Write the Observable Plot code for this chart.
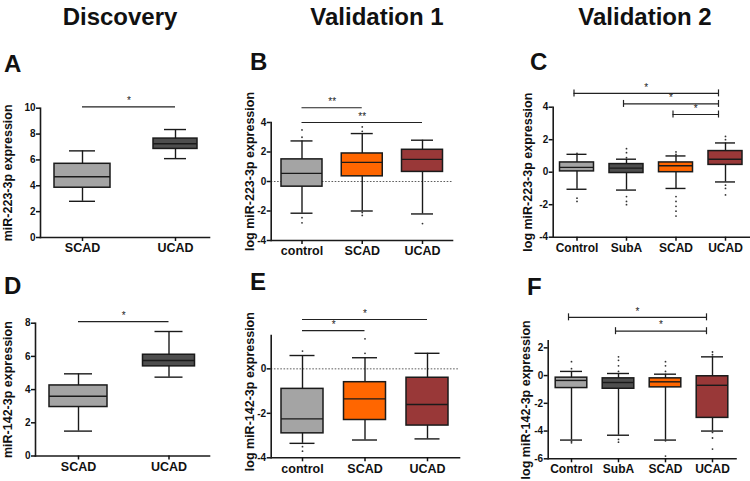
<!DOCTYPE html>
<html><head><meta charset="utf-8">
<script src="https://cdn.jsdelivr.net/npm/d3@7"></script>
<script src="https://cdn.jsdelivr.net/npm/@observablehq/plot@0.6"></script>
<style>
body{margin:0;background:#fff;}
#root{position:relative;width:750px;height:481px;overflow:hidden;font-family:"Liberation Sans",Arial,sans-serif;color:#111;}
.hdr{position:absolute;width:220px;text-align:center;font-weight:bold;font-size:24px;line-height:24px;}
.let{position:absolute;font-weight:bold;font-size:24px;line-height:24px;}
.pn{position:absolute;}
</style></head><body><div id="root"></div>
<script>
// ---------- Panel A: Discovery, miR-223-3p ----------
const A_groups = ["SCAD", "UCAD"];
const A_low  = [2.8, 6.1];
const A_q1   = [3.85, 6.85];
const A_med  = [4.7, 7.25];
const A_q3   = [5.7, 7.65];
const A_high = [6.7, 8.35];
const A_outGroup = [];
const A_outValue = [];
const A_sigFrom = ["SCAD"], A_sigTo = ["UCAD"], A_sigY = [10.1], A_sigText = ["*"];

// ---------- Panel B: Validation 1, log miR-223-3p ----------
const B_groups = ["control", "SCAD", "UCAD"];
const B_low  = [-2.15, -2.0, -2.2];
const B_q1   = [-0.35, 0.35, 0.65];
const B_med  = [0.55, 1.3, 1.5];
const B_q3   = [1.5, 1.9, 2.15];
const B_high = [2.75, 3.25, 2.8];
const B_outGroup = ["control","control","control","control","SCAD","SCAD","SCAD","SCAD","UCAD"];
const B_outValue = [3.5, 3.0, -2.45, -2.8, 3.4, 3.7, -2.1, -2.3, -2.85];
const B_sigFrom = ["control","control"], B_sigTo = ["SCAD","UCAD"], B_sigY = [5.0, 4.0], B_sigText = ["**","**"];

// ---------- Panel C: Validation 2, log miR-223-3p ----------
const C_groups = ["Control", "SubA", "SCAD", "UCAD"];
const C_low  = [-1.05, -1.1, -1.0, -0.6];
const C_q1   = [0.05, -0.05, 0.0, 0.45];
const C_med  = [0.3, 0.25, 0.4, 0.8];
const C_q3   = [0.6, 0.5, 0.6, 1.3];
const C_high = [1.1, 0.8, 1.0, 1.8];
const C_outGroup = ["Control","Control","Control","SubA","SubA","SubA","SubA","SubA","SubA","SCAD","SCAD","SCAD","SCAD","SCAD","SCAD","SCAD","UCAD","UCAD","UCAD","UCAD","UCAD"];
const C_outValue = [1.15, -1.6, -1.8, 0.9, 1.2, 1.45, -1.5, -1.8, -2.0, 1.1, 1.25, -1.5, -1.8, -2.1, -2.4, -2.7, 2.0, 2.2, -0.8, -1.0, -1.4];
const C_sigFrom = ["Control","SubA","SCAD"], C_sigTo = ["UCAD","UCAD","UCAD"], C_sigY = [4.85, 4.2, 3.55], C_sigText = ["*","*","*"];

// ---------- Panel D: Discovery, miR-142-3p ----------
const D_groups = ["SCAD", "UCAD"];
const D_low  = [1.5, 4.75];
const D_q1   = [2.95, 5.4];
const D_med  = [3.6, 5.75];
const D_q3   = [4.25, 6.1];
const D_high = [4.95, 7.5];
const D_outGroup = [];
const D_outValue = [];
const D_sigFrom = ["SCAD"], D_sigTo = ["UCAD"], D_sigY = [8.1], D_sigText = ["*"];

// ---------- Panel E: Validation 1, log miR-142-3p ----------
const E_groups = ["control", "SCAD", "UCAD"];
const E_low  = [-3.35, -3.2, -3.15];
const E_q1   = [-2.9, -2.3, -2.55];
const E_med  = [-2.25, -1.35, -1.6];
const E_q3   = [-0.9, -0.6, -0.4];
const E_high = [0.6, 0.5, 0.7];
const E_outGroup = ["control","control","control","SCAD","SCAD"];
const E_outValue = [0.8, -3.5, -3.7, 0.7, 1.35];
const E_sigFrom = ["control","control"], E_sigTo = ["SCAD","UCAD"], E_sigY = [1.72, 2.22], E_sigText = ["*","*"];

// ---------- Panel F: Validation 2, log miR-142-3p ----------
const F_groups = ["Control", "SubA", "SCAD", "UCAD"];
const F_low  = [-4.65, -4.3, -4.65, -4.0];
const F_q1   = [-0.9, -0.95, -0.85, -3.05];
const F_med  = [-0.35, -0.5, -0.45, -0.7];
const F_q3   = [-0.15, -0.2, -0.2, -0.05];
const F_high = [0.3, 0.15, 0.1, 1.35];
const F_outGroup = ["Control","Control","Control","Control","SubA","SubA","SubA","SubA","SubA","SubA","SCAD","SCAD","SCAD","SCAD","SCAD","SCAD","UCAD","UCAD","UCAD","UCAD","UCAD"];
const F_outValue = [0.5, 1.0, -4.75, -4.85, 0.3, 0.7, 1.1, 1.35, -4.6, -4.8, 0.3, 0.7, 1.0, -4.7, -5.8, -6.0, 1.5, 1.7, -4.1, -4.5, -5.3];
const F_sigFrom = ["Control","SubA"], F_sigTo = ["UCAD","UCAD"], F_sigY = [4.2, 3.2], F_sigText = ["*","*"];

const headers = ["Discovery", "Validation 1", "Validation 2"];

// colours
const LIGHT = "#a4a4a4", DARK = "#4e4e4e", ORANGE = "#ff6600", MAROON = "#993838";
const INK = "#1a1a1a";

const root = document.getElementById("root");

function addDiv(cls, text, left, top, extra) {
  const d = document.createElement("div");
  d.className = cls; d.textContent = text;
  d.style.left = left + "px"; d.style.top = top + "px";
  if (extra) Object.assign(d.style, extra);
  root.appendChild(d);
}

function drawPanel(p) {
  const n = p.groups.length;
  const rows = p.groups.map((g, i) => ({i, low: p.low[i], q1: p.q1[i], med: p.med[i], q3: p.q3[i], high: p.high[i], fill: p.fills[i]}));
  const step = (p.centers[n - 1] - p.centers[0]) / (n - 1);
  const bh = d => (p.boxHalf[d.i] ?? p.boxHalf[0]) / step;
  const ch = d => (p.capHalf[d.i] ?? p.capHalf[0]) / step;
  const outl = p.outGroup.map((g, k) => ({i: p.groups.indexOf(g), v: p.outValue[k]}));
  const sig = p.sigFrom.map((f, k) => ({a: p.groups.indexOf(f) + p.sigShift[0] / step, b: p.groups.indexOf(p.sigTo[k]) + p.sigShift[1] / step, y: p.sigY[k], t: p.sigText[k]}));
  const pxPerUnit = (p.yBottomPx - p.yTopPx) / (p.yDomain[1] - p.yDomain[0]);
  const capY = p.sigCapPx / pxPerUnit;
  const marks = [];
  if (p.zeroLine) marks.push(Plot.ruleY([0], {stroke: "#333", strokeWidth: 0.8, strokeDasharray: "1.6,1.6"}));
  marks.push(
    Plot.ruleX(rows, {x: "i", y1: "low", y2: "high", stroke: INK, strokeWidth: 1.4}),
    Plot.ruleY(rows, {x1: d => d.i - ch(d), x2: d => d.i + ch(d), y: "low", stroke: INK, strokeWidth: 1.4}),
    Plot.ruleY(rows, {x1: d => d.i - ch(d), x2: d => d.i + ch(d), y: "high", stroke: INK, strokeWidth: 1.4}),
    Plot.rect(rows, {x1: d => d.i - bh(d), x2: d => d.i + bh(d), y1: "q1", y2: "q3", fill: "fill", stroke: INK, strokeWidth: 1.5}),
    Plot.ruleY(rows, {x1: d => d.i - bh(d), x2: d => d.i + bh(d), y: "med", stroke: INK, strokeWidth: 1.4}),
    Plot.dot(outl, {x: "i", y: "v", r: 0.9, fill: "#333", stroke: null}),
    Plot.ruleY(sig, {x1: "a", x2: "b", y: "y", stroke: "#222", strokeWidth: 1.2}),
    Plot.text(sig, {x: d => (d.a + d.b) / 2, y: "y", text: "t", dy: -6, fontSize: 10, fill: "#222"}),
    Plot.frame({anchor: "left", stroke: INK, strokeWidth: 1.6}),
    Plot.frame({anchor: "bottom", stroke: INK, strokeWidth: 1.6}),
    Plot.axisY({ticks: p.yTicks, tickFormat: d => String(d), tickSize: 4, tickPadding: 1, strokeWidth: 1.5, fontSize: 10, fontWeight: "bold", label: null}),
    Plot.axisX({ticks: d3.range(n), tickFormat: i => p.groups[i], tickSize: 4, tickPadding: 2, strokeWidth: 1.5, fontSize: p.xFont, fontWeight: "bold", label: null}),
    Plot.text([p.ylabel], {text: d => d, frameAnchor: "left", textAnchor: "middle", lineAnchor: "middle", rotate: -90, dx: p.labelX - p.axisX, dy: p.labelDy, fontSize: 12.5, fontWeight: "bold", fill: "#111"})
  );
  if (p.sigCapPx > 0) {
    const ends = sig.flatMap(s => [{x: s.a, y: s.y}, {x: s.b, y: s.y}]);
    marks.push(Plot.ruleX(ends, {x: "x", y1: d => d.y - capY, y2: d => d.y + capY, stroke: "#222", strokeWidth: 1.2}));
  }
  const svg = Plot.plot({
    width: p.box.w, height: p.box.h,
    marginLeft: p.axisX - p.box.left,
    marginRight: p.box.left + p.box.w - p.frameRight,
    marginTop: p.yTopPx - p.box.top,
    marginBottom: p.box.top + p.box.h - p.yBottomPx,
    x: {type: "linear", domain: [0, n - 1], range: [p.centers[0] - p.box.left, p.centers[n - 1] - p.box.left]},
    y: {domain: p.yDomain},
    color: {type: "identity"},
    style: {fontFamily: '"Liberation Sans", Arial, sans-serif', background: "transparent", overflow: "visible", color: "#111"},
    marks
  });
  const wrap = document.createElement("div");
  wrap.className = "pn";
  wrap.style.left = p.box.left + "px"; wrap.style.top = p.box.top + "px";
  wrap.appendChild(svg);
  root.appendChild(wrap);
}

const common = {sigShift: [0, 0], sigCapPx: 0, zeroLine: false, labelDy: 0};

drawPanel({...common, groups: A_groups, low: A_low, q1: A_q1, med: A_med, q3: A_q3, high: A_high,
  outGroup: A_outGroup, outValue: A_outValue, sigFrom: A_sigFrom, sigTo: A_sigTo, sigY: A_sigY, sigText: A_sigText,
  fills: [LIGHT, DARK], box: {left: 0, top: 60, w: 215, h: 205}, axisX: 40, frameRight: 209,
  yTopPx: 107.7, yBottomPx: 237, yDomain: [0, 10], yTicks: [0, 2, 4, 6, 8, 10],
  centers: [82, 175], boxHalf: [28, 22], capHalf: [13, 11], xFont: 12.5, labelX: 7, ylabel: "miR-223-3p expression"});

drawPanel({...common, groups: B_groups, low: B_low, q1: B_q1, med: B_med, q3: B_q3, high: B_high,
  outGroup: B_outGroup, outValue: B_outValue, sigFrom: B_sigFrom, sigTo: B_sigTo, sigY: B_sigY, sigText: B_sigText,
  fills: [LIGHT, ORANGE, MAROON], box: {left: 240, top: 60, w: 230, h: 205}, axisX: 270.7, frameRight: 452,
  yTopPx: 122, yBottomPx: 240, yDomain: [-4, 4], yTicks: [-4, -2, 0, 2, 4], zeroLine: true, labelDy: -10,
  centers: [301.5, 361.7, 422], boxHalf: [20.5], capHalf: [11], xFont: 12.5, labelX: 249, ylabel: "log miR-223-3p expression"});

drawPanel({...common, groups: C_groups, low: C_low, q1: C_q1, med: C_med, q3: C_q3, high: C_high,
  outGroup: C_outGroup, outValue: C_outValue, sigFrom: C_sigFrom, sigTo: C_sigTo, sigY: C_sigY, sigText: C_sigText,
  fills: [LIGHT, DARK, ORANGE, MAROON], box: {left: 510, top: 60, w: 240, h: 205}, axisX: 552.7, frameRight: 750,
  yTopPx: 106.7, yBottomPx: 236.7, yDomain: [-4, 4], yTicks: [-4, -2, 0, 2, 4], sigCapPx: 3.5, sigShift: [-3, -7],
  centers: [576.5, 626.3, 676, 725], boxHalf: [17], capHalf: [10], xFont: 12, labelX: 527, ylabel: "log miR-223-3p expression"});

drawPanel({...common, groups: D_groups, low: D_low, q1: D_q1, med: D_med, q3: D_q3, high: D_high,
  outGroup: D_outGroup, outValue: D_outValue, sigFrom: D_sigFrom, sigTo: D_sigTo, sigY: D_sigY, sigText: D_sigText,
  fills: [LIGHT, DARK], box: {left: 0, top: 265, w: 215, h: 216}, axisX: 35, frameRight: 209,
  yTopPx: 322.7, yBottomPx: 455.5, yDomain: [0, 8], yTicks: [0, 2, 4, 6, 8],
  centers: [78, 168.5], boxHalf: [29, 26], capHalf: [14], xFont: 12.5, labelX: 7, ylabel: "miR-142-3p expression"});

drawPanel({...common, groups: E_groups, low: E_low, q1: E_q1, med: E_med, q3: E_q3, high: E_high,
  outGroup: E_outGroup, outValue: E_outValue, sigFrom: E_sigFrom, sigTo: E_sigTo, sigY: E_sigY, sigText: E_sigText,
  fills: [LIGHT, ORANGE, MAROON], box: {left: 240, top: 265, w: 230, h: 216}, axisX: 270.7, frameRight: 459,
  yTopPx: 335, yBottomPx: 457.3, yDomain: [-4, 1.5], yTicks: [-4, -2, 0], zeroLine: true, labelDy: -5,
  centers: [302, 365, 427], boxHalf: [21], capHalf: [12.5], xFont: 12.5, labelX: 249, ylabel: "log miR-142-3p expression"});

drawPanel({...common, groups: F_groups, low: F_low, q1: F_q1, med: F_med, q3: F_q3, high: F_high,
  outGroup: F_outGroup, outValue: F_outValue, sigFrom: F_sigFrom, sigTo: F_sigTo, sigY: F_sigY, sigText: F_sigText,
  fills: [LIGHT, DARK, ORANGE, MAROON], box: {left: 510, top: 265, w: 240, h: 216}, axisX: 547.7, frameRight: 735.5,
  yTopPx: 340.4, yBottomPx: 458.3, yDomain: [-6, 2.5], yTicks: [-6, -4, -2, 0, 2], sigCapPx: 3.5, sigShift: [-3, -6],
  centers: [571, 618.5, 665, 712], boxHalf: [15.8], capHalf: [11], xFont: 12, labelX: 525, ylabel: "log miR-142-3p expression"});

// headers and panel letters
addDiv("hdr", headers[0], 120 - 110, 5);
addDiv("hdr", headers[1], 377 - 110, 5);
addDiv("hdr", headers[2], 645 - 110, 5);
[["A", 4, 52], ["B", 250, 50], ["C", 530, 50], ["D", 4, 274], ["E", 250, 270], ["F", 527, 275]]
  .forEach(([t, x, y]) => addDiv("let", t, x, y));
</script>
</body></html>
